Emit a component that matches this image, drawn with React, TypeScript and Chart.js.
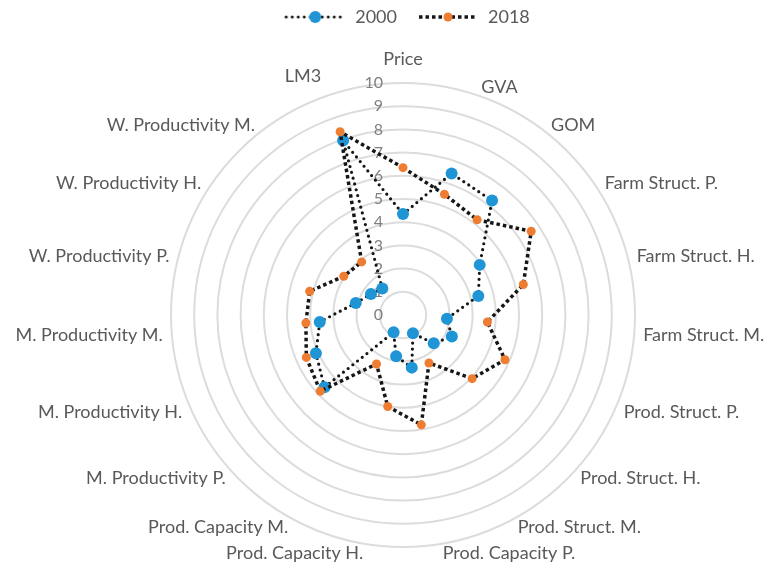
import React, { useEffect, useRef } from 'react';
import { Chart, registerables, RadialLinearScale } from 'chart.js';

Chart.register(...registerables);

// ---------- data ----------
const CATEGORIES = [
  'Price', 'GVA', 'GOM', 'Farm Struct. P.', 'Farm Struct. H.', 'Farm Struct. M.',
  'Prod. Struct. P.', 'Prod. Struct. H.', 'Prod. Struct. M.',
  'Prod. Capacity P.', 'Prod. Capacity H.', 'Prod. Capacity M.',
  'M. Productivity P.', 'M. Productivity H.', 'M. Productivity M.',
  'W. Productivity P.', 'W. Productivity H.', 'W. Productivity M.', 'LM3',
];
const SERIES_NAMES = ['2000', '2018'];
const VALUES_2000 = [4.35, 6.45, 6.25, 3.95, 3.35, 1.9, 2.3, 1.8, 0.9, 2.3, 1.8, 0.85, 4.6, 4.1, 3.6, 2.1, 1.65, 1.45, 7.95];
const VALUES_2018 = [6.35, 5.5, 5.2, 6.6, 5.35, 3.65, 4.8, 4.05, 2.35, 4.8, 4.0, 2.4, 4.85, 4.55, 4.2, 4.15, 3.05, 2.9, 8.35];
const TICK_MIN = 0;
const TICK_MAX = 10;
const TICK_STEP = 1;

// ---------- layout / style ----------
const CENTER_X = 403;
const CENTER_Y = 315;
const RADIUS = 232;
const BLUE = '#1F95D6';
const ORANGE = '#EE7D31';
const DOT = '#161616';
const TEXT = '#595959';
const FONT = 'Lato';

class ExcelRadialScale extends RadialLinearScale {
  static id = 'excelRadial';
  static defaults = RadialLinearScale.defaults;
  setCenterPoint() {
    this.xCenter = CENTER_X;
    this.yCenter = CENTER_Y;
    this.drawingArea = RADIUS;
  }
  fit() {
    super.fit();
    const items: any[] = (this as any)._pointLabelItems || [];
    const n = items.length;
    items.forEach((it, i) => {
      const deg = Math.round((i * 360) / n) % 360;
      if (deg === 0 || deg === 90 || deg === 180 || deg === 270) return;
      const h = it.bottom - it.top;
      const shift = deg < 90 || deg > 270 ? h / 2 : -h / 2;
      it.y += shift;
      it.top += shift;
      it.bottom += shift;
    });
  }
}
Chart.register(ExcelRadialScale as any);

function makeIcon(kind: 'round' | 'square', color: string, r: number) {
  const c = document.createElement('canvas');
  c.width = 62;
  c.height = 14;
  const ctx = c.getContext('2d')!;
  ctx.strokeStyle = DOT;
  if (kind === 'round') {
    ctx.lineWidth = 3;
    ctx.lineCap = 'round';
    ctx.setLineDash([0, 6]);
  } else {
    ctx.lineWidth = 3.5;
    ctx.lineCap = 'butt';
    ctx.setLineDash([3.5, 3]);
  }
  ctx.beginPath();
  ctx.moveTo(2, 7);
  ctx.lineTo(60, 7);
  ctx.stroke();
  ctx.fillStyle = color;
  ctx.beginPath();
  ctx.arc(31, 7, r, 0, Math.PI * 2);
  ctx.fill();
  return c;
}

const tickLabelPlugin = {
  id: 'excelTicks',
  beforeDatasetsDraw(chart: any) {
    const s = chart.scales.r;
    const ctx = chart.ctx;
    ctx.save();
    ctx.font = `16px ${FONT}`;
    ctx.fillStyle = '#7F7F7F';
    ctx.textAlign = 'right';
    ctx.textBaseline = 'middle';
    s.ticks.forEach((t: any) => {
      const d = s.getDistanceFromCenterForValue(t.value);
      ctx.fillText(String(t.value), s.xCenter - 20, s.yCenter - d);
    });
    ctx.restore();
  },
};

export default function App() {
  const ref = useRef<HTMLCanvasElement>(null);
  useEffect(() => {
    const icons = [makeIcon('round', BLUE, 6), makeIcon('square', ORANGE, 4.5)];
    const chart = new Chart(ref.current!, {
      type: 'radar',
      data: {
        labels: CATEGORIES,
        datasets: [
          {
            label: SERIES_NAMES[0],
            data: VALUES_2000,
            borderColor: DOT,
            borderWidth: 3.2,
            borderDash: [0, 6],
            borderCapStyle: 'round',
            backgroundColor: 'transparent',
            fill: false,
            pointRadius: 6,
            pointBackgroundColor: BLUE,
            pointBorderColor: BLUE,
            pointBorderWidth: 0,
            order: 2,
          } as any,
          {
            label: SERIES_NAMES[1],
            data: VALUES_2018,
            borderColor: DOT,
            borderWidth: 3.5,
            borderDash: [3.5, 3],
            borderCapStyle: 'butt',
            backgroundColor: 'transparent',
            fill: false,
            pointRadius: 4.5,
            pointBackgroundColor: ORANGE,
            pointBorderColor: ORANGE,
            pointBorderWidth: 0,
            order: 1,
          } as any,
        ],
      },
      options: {
        animation: false,
        responsive: true,
        maintainAspectRatio: false,
        events: [],
        layout: { padding: { top: -12, left: 40 } },
        elements: { line: { tension: 0 } },
        plugins: {
          tooltip: { enabled: false },
          legend: {
            position: 'top',
            labels: {
              usePointStyle: true,
              pointStyleWidth: 62,
              padding: 20,
              color: TEXT,
              font: { family: FONT, size: 18 },
              generateLabels: (ch: any) => {
                const items = (Chart.defaults.plugins.legend.labels as any).generateLabels(ch);
                items.forEach((it: any) => {
                  it.pointStyle = icons[it.datasetIndex];
                });
                return items;
              },
              sort: (a: any, b: any) => a.datasetIndex - b.datasetIndex,
            },
          },
        },
        scales: {
          r: {
            type: 'excelRadial' as any,
            min: TICK_MIN,
            max: TICK_MAX,
            ticks: { display: false, stepSize: TICK_STEP },
            grid: { circular: true, color: '#DCDCDC', lineWidth: 2 },
            angleLines: { display: false },
            pointLabels: {
              display: true,
              color: TEXT,
              font: { family: FONT, size: 18 },
              padding: (ctx: any) => (ctx.index === 0 ? 13 : ctx.index === 18 ? 20 : 9),
            },
          } as any,
        },
      },
      plugins: [tickLabelPlugin],
    });
    return () => chart.destroy();
  }, []);
  return (
    <div style={{ position: 'fixed', left: 0, top: 0, width: 774, height: 568, background: '#fff' }}>
      <canvas ref={ref} />
    </div>
  );
}
